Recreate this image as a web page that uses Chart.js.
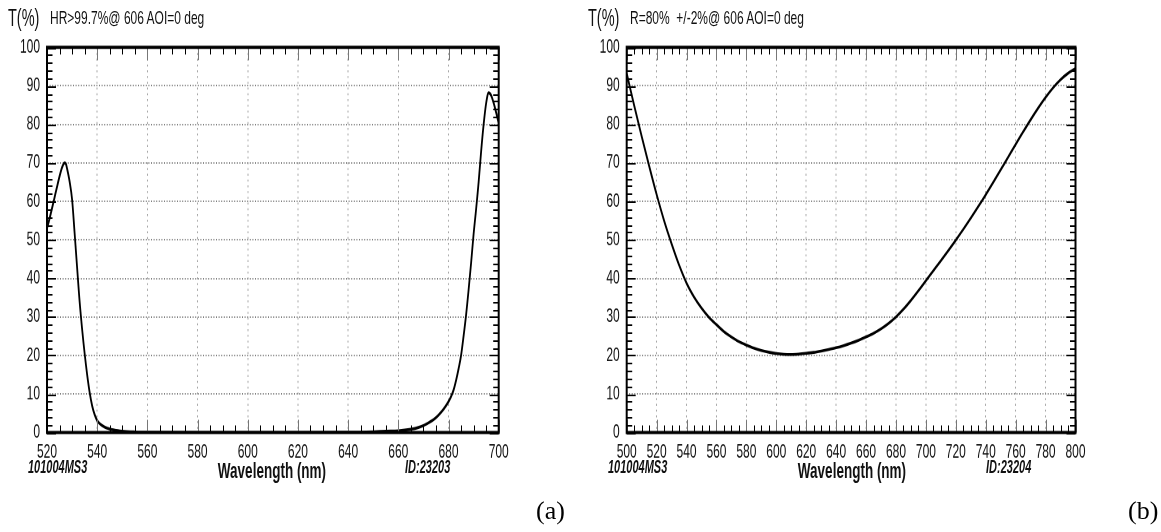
<!DOCTYPE html>
<html>
<head>
<meta charset="utf-8">
<script src="https://cdn.jsdelivr.net/npm/chart.js@4/dist/chart.umd.min.js"></script>
<style>
  html, body { margin: 0; padding: 0; background: #fff; }
  body { width: 1161px; height: 532px; position: relative; overflow: hidden; }
  #stage { position: absolute; left: 0; top: 0; width: 1161px; height: 333px;
           transform: scaleY(1.5976); transform-origin: 0 0; }
  .panel { position: absolute; top: 0; height: 333px; }
  .txt { position: absolute; white-space: pre; font-family: "Liberation Sans", Arial, sans-serif; color: #111; line-height: 1; }
  .tt { font-size: 14.5px; }
  .ttl { font-size: 12px; }
  .code { font-size: 11px; font-weight: bold; font-style: italic; }
  .xt { font-size: 13.5px; font-weight: bold; transform: translateX(-50%); }
  .sub { position: absolute; font-family: "Liberation Serif", "DejaVu Serif", serif; font-size: 26px; line-height: 1; color: #000; }
</style>
</head>
<body>
<div id="stage">
  <div class="panel" style="left:0;width:580px;"><canvas id="c1" width="580" height="333"></canvas></div>
  <div class="panel" style="left:580px;width:581px;"><canvas id="c2" width="581" height="333"></canvas></div>

  <div class="txt tt" style="left:8px;top:4px;">T(%)</div>
  <div class="txt ttl" style="left:50px;top:5px;">HR&gt;99.7%@ 606 AOI=0 deg</div>
  <div class="txt code" style="left:28px;top:286.5px;">101004MS3</div>
  <div class="txt xt" style="left:272px;top:287.5px;">Wavelength (nm)</div>
  <div class="txt code" style="left:405px;top:286.5px;">ID:23203</div>

  <div class="txt tt" style="left:588px;top:4px;">T(%)</div>
  <div class="txt ttl" style="left:630px;top:5px;">R=80%  +/-2%@ 606 AOI=0 deg</div>
  <div class="txt code" style="left:608px;top:286.5px;">101004MS3</div>
  <div class="txt xt" style="left:852px;top:287.5px;">Wavelength (nm)</div>
  <div class="txt code" style="left:986px;top:286.5px;">ID:23204</div>
</div>
<div class="sub" style="left:536px;top:498px;">(a)</div>
<div class="sub" style="left:1128px;top:498px;">(b)</div>

<script>
// ---------- data ----------
const wavelengthA = [520,521,522,523,524,525,526,527,527.5,528,529,530,531,532,533,534,535,536,537,538,539,540,541,542,544,547,550,555,560,580,600,620,640,650,655,660,665,668,670,672,674,676,678,680,681,682,683,684,685,686,687,688,689,690,691,692,693,694,695,696,697,698,699,700];
const transA =     [53,55.5,58.2,61,63.8,66.5,68.8,70,69.8,68.5,65.2,60.5,51.8,42.8,34,26.8,20.5,15.0,10.4,6.9,4.6,3.1,2.3,1.8,1.1,0.6,0.35,0.15,0.05,0.02,0.02,0.02,0.05,0.2,0.35,0.45,0.85,1.3,1.8,2.5,3.3,4.5,6.0,8.0,9.3,11,13.5,16.5,20,25,30.5,37,44,51.5,58,65,73,80,85.5,88.2,87.5,85.5,83,80.3];

const wavelengthB = [500,505,510,515,520,525,530,535,540,545,550,555,560,565,570,575,580,585,590,595,600,605,610,615,620,625,630,635,640,645,650,655,660,665,670,675,680,685,690,695,700,705,710,715,720,725,730,735,740,745,750,755,760,765,770,775,780,785,790,795,800];
const transB =      [93.2,84.9,76.9,69.2,61.8,55.0,49.0,43.5,38.8,35.2,32.3,29.9,28.0,26.2,24.8,23.6,22.7,21.9,21.3,20.85,20.5,20.3,20.25,20.35,20.55,20.8,21.15,21.55,22.0,22.55,23.2,23.95,24.8,25.75,26.9,28.3,30.0,32.0,34.3,36.8,39.4,42.0,44.6,47.25,49.95,52.75,55.65,58.65,61.75,64.95,68.2,71.5,74.8,78.05,81.2,84.2,87.0,89.5,91.6,93.25,94.5];

const xRangeA = [520, 700];
const xRangeB = [500, 800];
const yRange = [0, 100];
const xMajorStep = 20, xMinorStep = 5;
const yMajorStep = 10, yMinorStep = 2;

// ---------- plugin: frame + inward ticks on all four sides ----------
const frameTicks = {
  id: 'frameTicks',
  afterDatasetsDraw(chart, args, o) {
    const { ctx, chartArea: a, scales: { x, y } } = chart;
    ctx.save();
    ctx.lineWidth = 1;
    const nx = Math.round((x.max - x.min) / o.xMinor);
    for (let i = 0; i <= nx; i++) {
      const v = x.min + i * o.xMinor;
      const px = Math.round(x.getPixelForValue(v)) + 0.5;
      const major = (i * o.xMinor) % o.xMajor === 0;
      const len = major ? 8 : 4.5;
      ctx.strokeStyle = major ? '#777' : '#000';
      ctx.beginPath();
      ctx.moveTo(px, a.bottom); ctx.lineTo(px, a.bottom - len);
      ctx.moveTo(px, a.top); ctx.lineTo(px, a.top + len);
      ctx.stroke();
    }
    const ny = Math.round((y.max - y.min) / o.yMinor);
    ctx.strokeStyle = '#000';
    for (let i = 0; i <= ny; i++) {
      const v = y.min + i * o.yMinor;
      const py = Math.round(y.getPixelForValue(v)) + 0.5;
      const major = (i * o.yMinor) % o.yMajor === 0;
      const len = major ? 9 : 5.5;
      ctx.beginPath();
      ctx.moveTo(a.left, py); ctx.lineTo(a.left + len, py);
      ctx.moveTo(a.right, py); ctx.lineTo(a.right - len, py);
      ctx.stroke();
    }
    ctx.lineWidth = 2;
    ctx.strokeStyle = '#000';
    ctx.strokeRect(a.left, a.top, a.right - a.left, a.bottom - a.top);
    ctx.restore();
  }
};

Chart.defaults.font.family = '"Liberation Sans", Arial, sans-serif';
Chart.defaults.font.size = 12;
Chart.defaults.color = '#111';

function makeChart(id, wl, tr, xr, yWidth, padRight) {
  const pts = wl.map((w, i) => ({ x: w, y: tr[i] }));
  return new Chart(document.getElementById(id), {
    type: 'line',
    data: { datasets: [{ data: pts, borderColor: '#000', borderWidth: 1.8, pointRadius: 0,
                         cubicInterpolationMode: 'monotone', fill: false }] },
    options: {
      responsive: false, animation: false, devicePixelRatio: 2,
      layout: { padding: { top: 29.6, right: padRight, bottom: 42.3, left: 0 } },
      plugins: { legend: { display: false }, tooltip: { enabled: false },
                 frameTicks: { xMinor: xMinorStep, xMajor: xMajorStep, yMinor: yMinorStep, yMajor: yMajorStep } },
      scales: {
        x: { type: 'linear', min: xr[0], max: xr[1],
             ticks: { stepSize: xMajorStep, padding: 5.5, maxRotation: 0, autoSkip: false, color: '#111' },
             grid: { color: '#a8a8a8', lineWidth: 1, drawTicks: false },
             border: { display: false, dash: [1.2, 2.4] },
             afterFit: s => { s.height = 20; } },
        y: { min: yRange[0], max: yRange[1],
             ticks: { stepSize: yMajorStep, padding: 7, color: '#111' },
             grid: { color: '#808080', lineWidth: 1, drawTicks: false },
             border: { display: false, dash: [1, 1.6] },
             afterFit: s => { s.width = yWidth; } }
      }
    },
    plugins: [frameTicks]
  });
}

makeChart('c1', wavelengthA, transA, xRangeA, 47, 81.3);
makeChart('c2', wavelengthB, transB, xRangeB, 46.7, 85.5);
</script>
</body>
</html>
